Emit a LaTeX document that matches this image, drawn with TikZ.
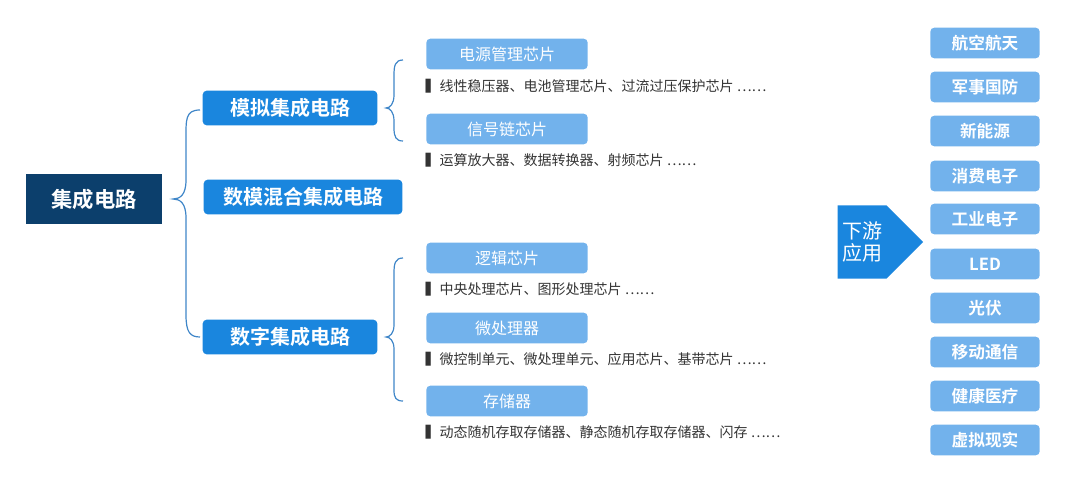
\documentclass[tikz,border=0pt]{standalone}
\usepackage{fontspec}
\newfontfamily\cjk{Noto Sans CJK SC}
\newfontfamily\cjkb{Noto Sans CJK SC Bold}
\usetikzlibrary{shapes.arrows}
\definecolor{navy}{HTML}{0C3F6C}
\definecolor{mid}{HTML}{1A86DE}
\definecolor{lite}{HTML}{72B2EC}
\definecolor{brc}{HTML}{3F86C8}
\begin{document}
\begin{tikzpicture}[x=0.75pt,y=-0.75pt,
 root/.style={fill=navy,text=white,minimum width=102pt,minimum height=37pt,font=\cjkb\fontsize{16}{16}\selectfont},
 lvl/.style={fill=mid,text=white,rounded corners=3pt,minimum height=26pt,font=\cjkb\fontsize{15}{15}\selectfont},
 sub/.style={fill=lite,text=white,rounded corners=3pt,minimum width=121pt,minimum height=23pt,font=\cjk\fontsize{12}{12}\selectfont},
 app/.style={fill=lite,text=white,rounded corners=3pt,minimum width=82pt,minimum height=23pt,font=\cjkb\fontsize{12.5}{12.5}\selectfont},
 desc/.style={anchor=west,text=black!80,font=\cjk\fontsize{10.5}{10.5}\selectfont},
 br/.style={draw=brc,line width=0.9pt}]
\useasboundingbox (0,0) rectangle (1080,484);
\node[root] (r) at (94,199) {集成电路};
\node[lvl,minimum width=131pt] (a) at (290,108) {模拟集成电路};
\node[lvl,minimum width=149pt] (m) at (303,197) {数模混合集成电路};
\node[lvl,minimum width=131pt] (d) at (290,337) {数字集成电路};
% brace 1
\draw[br] (200,110) .. controls (185,110) and (186,120) .. (186,140) -- (186,180) .. controls (186,195) and (180,199) .. (173,199)
 .. controls (180,199) and (186,203) .. (186,218) -- (186,315) .. controls (186,332) and (190,337) .. (200,337);
% brace 2
\draw[br] (403,60) .. controls (395,60) and (394,66) .. (394,75) -- (394,95) .. controls (394,104) and (390,108) .. (386,108)
 .. controls (390,108) and (394,112) .. (394,121) -- (394,128) .. controls (394,137) and (396,141) .. (403,141);
% brace 3
\draw[br] (403,258) .. controls (395,258) and (394,264) .. (394,273) -- (394,325) .. controls (394,333) and (390,337) .. (386,337)
 .. controls (390,337) and (394,341) .. (394,349) -- (394,390) .. controls (394,398) and (396,401) .. (403,401);
\node[sub] (s1) at (507,54) {电源管理芯片};
\node[sub] (s2) at (507,129) {信号链芯片};
\node[sub] (s3) at (507,258) {逻辑芯片};
\node[sub] (s4) at (507,328) {微处理器};
\node[sub] (s5) at (507,401) {存储器};
\node[desc] (t1) at (421,86) {\textbf{\char"258D}线性稳压器、电池管理芯片、过流过压保护芯片 ……};
\node[desc] (t2) at (421,160) {\textbf{\char"258D}运算放大器、数据转换器、射频芯片 ……};
\node[desc] (t3) at (421,289) {\textbf{\char"258D}中央处理芯片、图形处理芯片 ……};
\node[desc] (t4) at (421,359) {\textbf{\char"258D}微控制单元、微处理单元、应用芯片、基带芯片 ……};
\node[desc] (t5) at (421,432) {\textbf{\char"258D}动态随机存取存储器、静态随机存取存储器、闪存 ……};
\node[single arrow,fill=mid,minimum height=64pt,minimum width=55pt,single arrow head extend=0pt,inner sep=1pt,single arrow tip angle=90,
 text=white,font=\cjk\fontsize{15}{17}\selectfont,align=left] (arr) at (862,242) {下游\\应用\hspace{12pt}};
\foreach \t/\y [count=\i] in {航空航天/43,军事国防/87,新能源/131,消费电子/176,工业电子/219,LED/264,光伏/308,移动通信/352,健康医疗/396,虚拟现实/440}
 \node[app] (p\i) at (985,\y) {\t};
\end{tikzpicture}
\end{document}
